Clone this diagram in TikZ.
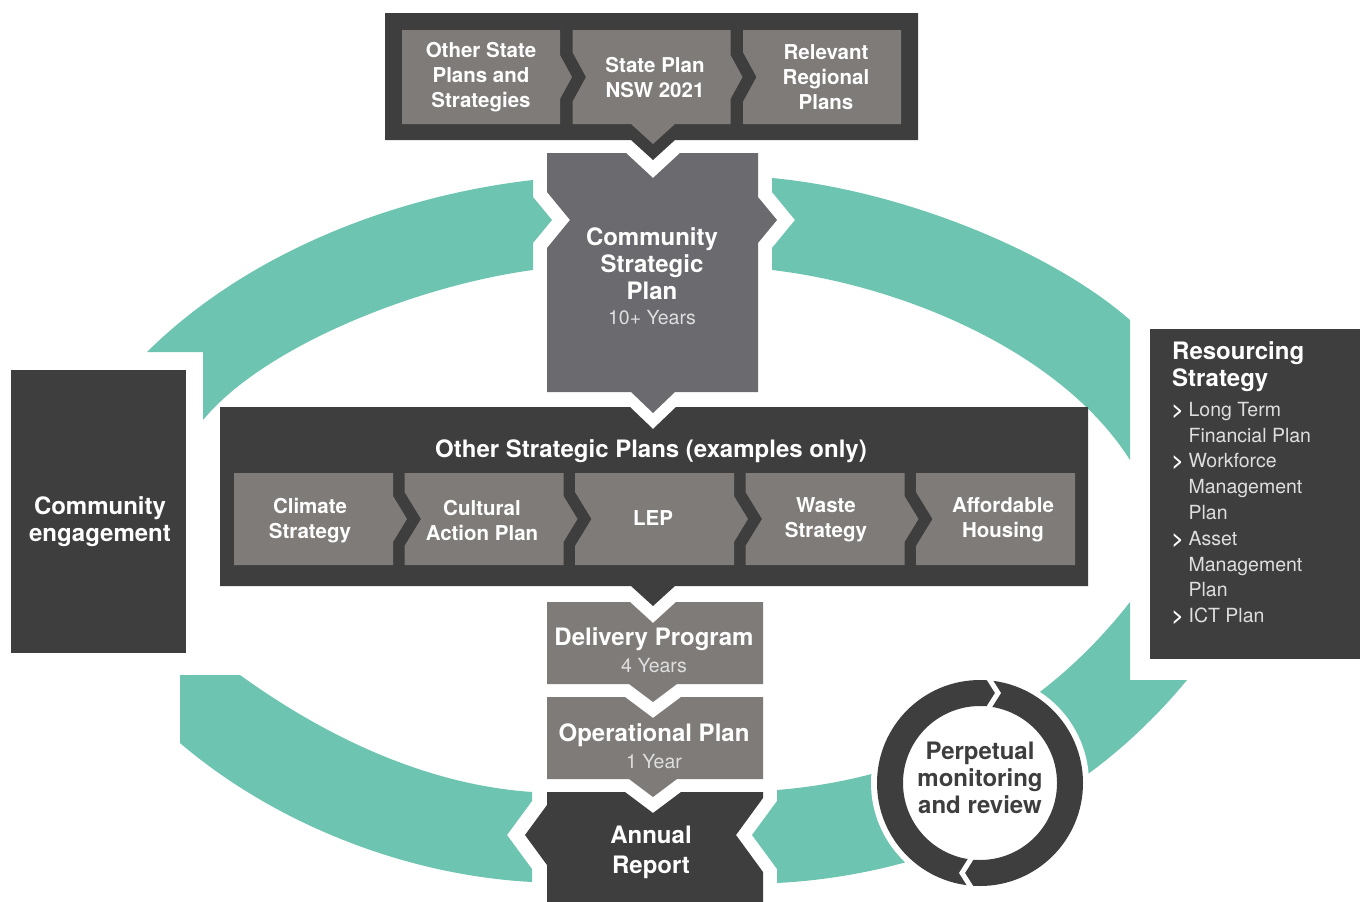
\documentclass[tikz,border=0pt]{standalone}
\usepackage{fontspec}
\setmainfont{TeX Gyre Heros}

\definecolor{bandteal}{HTML}{6DC5B1}
\definecolor{darkbox}{HTML}{3E3E3E}
\definecolor{greybox}{HTML}{7F7B79}
\definecolor{cspbox}{HTML}{6B6A6F}
\definecolor{lighttext}{HTML}{DEDEDE}

\tikzset{
  band/.style={fill=bandteal},
  darkpanel/.style={fill=darkbox},
  greypanel/.style={fill=greybox},
  bigtext/.style={text=white, align=center, inner sep=0pt,
    font=\bfseries\fontsize{24}{27}\selectfont},
  chevtext/.style={text=white, align=center, inner sep=0pt,
    font=\bfseries\fontsize{20.5}{25}\selectfont},
  yeartext/.style={text=lighttext, inner sep=0pt,
    font=\fontsize{19.5}{24}\selectfont},
}

\begin{document}
\begin{tikzpicture}[x=1pt,y=-1pt]
  \useasboundingbox (0,0) rectangle (1360,902);

  % teal cycle
  \fill[band] (147,352) .. controls (250,250) and (400,195) .. (533,180)
    -- (533,197) -- (552,220) -- (533,243) -- (533,270)
    .. controls (420,285) and (265,345) .. (203,420) -- (203,352) -- cycle;
  \fill[band] (772,178) .. controls (900,190) and (1050,250) .. (1130,320)
    -- (1130,460) .. controls (1060,350) and (900,285) .. (772,270)
    -- (772,248) -- (795,220) -- (772,192) -- cycle;
  \fill[band] (1130,602) -- (1130,680) -- (1187,680)
    .. controls (1080,810) and (930,875) .. (777,883)
    -- (777,869) -- (752,835) -- (777,801) -- (777,790)
    .. controls (900,780) and (1030,730) .. (1130,602) -- cycle;
  \fill[band] (180,743) -- (180,675) -- (240,675)
    .. controls (330,740) and (430,785) .. (532,792)
    -- (532,801) -- (507,835) -- (532,869) -- (532,882)
    .. controls (400,875) and (270,820) .. (180,743) -- cycle;

  % state level plans
  \fill[darkpanel] (385,13) -- (918,13) -- (918,140) -- (675,140) -- (653,160)
    -- (631,140) -- (385,140) -- cycle;
  \fill[greypanel] (402,30) -- (560,30) -- (560,55) -- (572,77) -- (560,99)
    -- (560,124) -- (402,124) -- cycle;
  \fill[greypanel] (572.5,30) -- (730.5,30) -- (730.5,55) -- (742.5,77)
    -- (730.5,99) -- (730.5,124) -- (675,124) -- (653,144) -- (631,124)
    -- (572.5,124) -- (572.5,101.75) -- (586,77) -- (572.5,52.25) -- cycle;
  \fill[greypanel] (743,30) -- (901,30) -- (901,124) -- (743,124)
    -- (743,101.75) -- (756.5,77) -- (743,52.25) -- cycle;
  \node[chevtext] (otherstate) at (481,77) {Other State\\Plans and\\Strategies};
  \node[chevtext] (stateplan) at (655,78) {State Plan\\NSW 2021};
  \node[chevtext] (regional) at (826,77) {Relevant\\Regional\\Plans};

  % community strategic plan
  \fill[cspbox] (547,153) -- (626,153) -- (653,178) -- (680,153) -- (758,153)
    -- (758,197) -- (777,220) -- (758,243) -- (758,392) -- (675,392)
    -- (653,413) -- (631,392) -- (547,392) -- (547,248) -- (570,220)
    -- (547,192) -- cycle;
  \node[bigtext] (csp) at (652,264) {Community\\Strategic\\Plan};
  \node[yeartext] (cspyears) at (652,318) {10+ Years};

  % other strategic plans
  \fill[darkpanel] (220,407) -- (630,407) -- (653,429) -- (676,407) -- (1088,407)
    -- (1088,586) -- (675,586) -- (653,606) -- (631,586) -- (220,586) -- cycle;
  \node[bigtext] (osp) at (651,451) {Other Strategic Plans (examples only)};
  \fill[greypanel] (234,473) -- (393,473) -- (393,496) -- (407,519) -- (393,542)
    -- (393,565) -- (234,565) -- cycle;
  \fill[greypanel] (404.5,473) -- (563.5,473) -- (563.5,496) -- (577.5,519)
    -- (563.5,542) -- (563.5,565) -- (404.5,565) -- (404.5,546) -- (421,519)
    -- (404.5,492) -- cycle;
  \fill[greypanel] (575,473) -- (734,473) -- (734,496) -- (748,519) -- (734,542)
    -- (734,565) -- (575,565) -- (575,546) -- (591.5,519) -- (575,492) -- cycle;
  \fill[greypanel] (745.5,473) -- (904.5,473) -- (904.5,496) -- (918.5,519)
    -- (904.5,542) -- (904.5,565) -- (745.5,565) -- (745.5,546) -- (762,519)
    -- (745.5,492) -- cycle;
  \fill[greypanel] (916,473) -- (1075,473) -- (1075,565) -- (916,565)
    -- (916,546) -- (932.5,519) -- (916,492) -- cycle;
  \node[chevtext] (climate) at (310,521) {Climate\\Strategy};
  \node[chevtext] (cultural) at (482,520) {Cultural\\Action Plan};
  \node[chevtext] (lep) at (653,518) {LEP};
  \node[chevtext] (waste) at (826,520) {Waste\\Strategy};
  \node[chevtext] (housing) at (1003,520) {Affordable\\Housing};

  % delivery, operational, annual report
  \fill[greypanel] (547,602) -- (630,602) -- (653,623) -- (676,602) -- (763,602)
    -- (763,684) -- (677,684) -- (653,702) -- (629,684) -- (547,684) -- cycle;
  \node[bigtext] (delivery) at (654,639) {Delivery Program};
  \node[yeartext] (deliveryyears) at (654,666) {4 Years};
  \fill[greypanel] (547,697) -- (625,697) -- (653,718) -- (681,697) -- (763,697)
    -- (763,779) -- (677,779) -- (653,797) -- (629,779) -- (547,779) -- cycle;
  \node[bigtext] (operational) at (654,735) {Operational Plan};
  \node[yeartext] (operationalyears) at (654,762) {1 Year};
  \fill[darkpanel] (547,792) -- (625,792) -- (653,813) -- (681,792) -- (763,792)
    -- (763,798) -- (736,835) -- (763,872) -- (763,902) -- (547,902)
    -- (547,865) -- (525,835) -- (547,805) -- cycle;
  \node[bigtext, font=\bfseries\fontsize{24}{30}\selectfont] (annual) at (651,852) {Annual\\Report};

  % side panels
  \fill[darkpanel] (11,370) rectangle (186,653);
  \node[bigtext] (engagement) at (100,522) {Community\\engagement};
  \fill[darkpanel] (1150,329) rectangle (1360,659);
  \node[bigtext, align=left, anchor=west] (resourcing) at (1172,367) {Resourcing\\Strategy};
  \node[anchor=north west, inner sep=0pt, text=lighttext,
        font=\fontsize{19.5}{25.8}\selectfont] (resitems) at (1172,398)
    {\begin{tabular}{@{}l@{\hspace{5pt}}l@{}}
      \textcolor{white}{\bfseries >} & Long Term\\
       & Financial Plan\\
      \textcolor{white}{\bfseries >} & Workforce\\
       & Management\\
       & Plan\\
      \textcolor{white}{\bfseries >} & Asset\\
       & Management\\
       & Plan\\
      \textcolor{white}{\bfseries >} & ICT Plan
    \end{tabular}};

  % monitoring ring
  \fill[white] (980,783) circle (109pt);
  \fill[darkbox, even odd rule] (980,783) circle (103pt) (980,783) circle (77pt);
  \draw[white, line width=5pt] (986,674) -- (998,693) -- (986,712);
  \draw[white, line width=5pt] (974,854) -- (962,873) -- (974,892);
  \node[bigtext, text=darkbox] (monitoring) at (980,778) {Perpetual\\monitoring\\and review};

\end{tikzpicture}
\end{document}
